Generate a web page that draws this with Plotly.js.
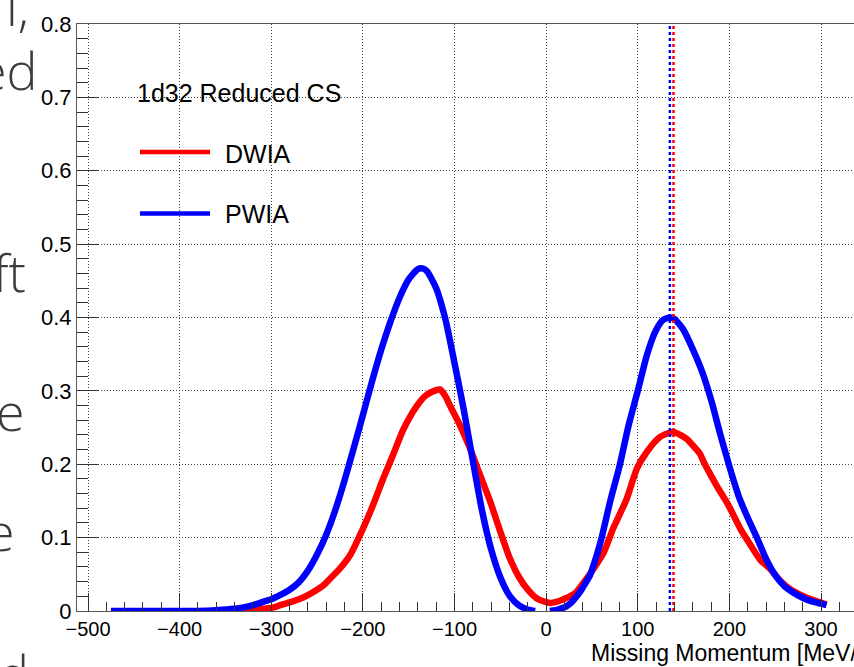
<!DOCTYPE html>
<html>
<head>
<meta charset="utf-8">
<script src="https://cdn.plot.ly/plotly-3.0.1.min.js"></script>
<style>
html,body{margin:0;padding:0;overflow:hidden;background:#fff;width:854px;height:667px;}
#chart{width:900px;height:667px;}
</style>
</head>
<body>
<div id="chart"></div>
<script>
// ---- data ----
const pwiaX = [-475,-450,-420,-400,-380,-360,-340,-330,-320,-310,-300,-290,-280,-270,-260,-250,-240,-230,-220,-210,-200,-190,-180,-170,-160,-150,-140,-135,-130,-120,-110,-100,-90,-80,-70,-60,-50,-40,-30,-20,-12,
  null,
  4,10,15,20,26,30,37,40,48,50,55,60,70,80,90,100,110,120,128,135,140,146,150,160,170,180,190,200,210,220,230,240,250,260,270,280,290,300,306];
const pwiaY = [0,0,0,0,0,0.001,0.003,0.005,0.008,0.012,0.016,0.022,0.029,0.039,0.055,0.077,0.104,0.138,0.178,0.222,0.267,0.313,0.356,0.394,0.427,0.452,0.466,0.467,0.463,0.440,0.398,0.338,0.275,0.205,0.137,0.084,0.046,0.021,0.008,0.002,0,
  null,
  0,0.001,0.003,0.005,0.010,0.015,0.026,0.032,0.049,0.056,0.075,0.097,0.150,0.197,0.253,0.300,0.349,0.383,0.397,0.400,0.398,0.390,0.383,0.357,0.327,0.288,0.241,0.197,0.157,0.127,0.100,0.071,0.049,0.034,0.025,0.018,0.013,0.010,0.008];

const dwiaX = [-345,-334,-320,-310,-297,-290,-279,-270,-261,-250,-243,-235,-225,-214,-200,-189,-178,-167,-156,-142,-131,-120,-116,-110,-105,-94,-83,-72,-61,-50,-40,-30,-20,-10,0,5,10,19,30,33,44,52,63,73,88,99,110,124,139,153,157,168,172,186,199,212,223,234,244,255,266,281,303,306];
const dwiaY = [0,0.001,0.002,0.003,0.005,0.008,0.012,0.016,0.021,0.029,0.035,0.045,0.058,0.076,0.112,0.144,0.180,0.213,0.247,0.278,0.294,0.301,0.302,0.293,0.280,0.253,0.221,0.185,0.149,0.108,0.073,0.047,0.029,0.017,0.012,0.011,0.012,0.016,0.023,0.026,0.044,0.058,0.080,0.112,0.153,0.194,0.217,0.237,0.244,0.235,0.230,0.214,0.203,0.171,0.144,0.112,0.090,0.069,0.058,0.042,0.030,0.020,0.010,0.009];

const peakNames = ["PWIA mean","DWIA mean"];
const peakX = [135, 139];
const yRange = [0, 0.8];
const xRange = [-512, 360];

const legendHeader = "1d32 Reduced CS";
const seriesNames = ["DWIA","PWIA"];
const xTitle = "Missing Momentum [MeV/c]";
const slideFragments = ["l,","ed","ft","e","e","d"];

// ---- layout helpers (pixel -> paper) ----
const W = 900, H = 667, ML = 77, MR = 24, MT = 24, MB = 56;
const PW = W - ML - MR, PH = H - MT - MB;
const px = v => (v - ML) / PW;
const py = v => (H - MB - v) / PH;

const RED = "#ff0000", BLUE = "#0000ff";
const FONT = "Liberation Sans, Arial, Helvetica, sans-serif";

const traces = [
  {x: dwiaX, y: dwiaY, type: "scatter", mode: "lines", name: seriesNames[0],
   line: {color: RED, width: 6.5, shape: "spline", smoothing: 0.6}, connectgaps: false},
  {x: pwiaX, y: pwiaY, type: "scatter", mode: "lines", name: seriesNames[1],
   line: {color: BLUE, width: 6.5, shape: "spline", smoothing: 0.6}, connectgaps: false},
  {x: [peakX[0], peakX[0]], y: yRange, type: "scatter", mode: "lines", name: peakNames[0],
   line: {color: BLUE, width: 2.5, dash: "3px,3px"}},
  {x: [peakX[1], peakX[1]], y: yRange, type: "scatter", mode: "lines", name: peakNames[1],
   line: {color: RED, width: 2.5, dash: "3px,3px"}}
];

const fragPos = [[31, 5], [40, 70], [28, 271], [27, 410], [17, 530], [31, 672]];
const annotations = [
  {text: legendHeader, x: px(135), y: py(93), xref: "paper", yref: "paper", xanchor: "left", yanchor: "middle",
   showarrow: false, font: {family: FONT, size: 25, color: "#000"}},
  {text: seriesNames[0], x: px(223), y: py(153.5), xref: "paper", yref: "paper", xanchor: "left", yanchor: "middle",
   showarrow: false, font: {family: FONT, size: 25, color: "#000"}},
  {text: seriesNames[1], x: px(223), y: py(214.5), xref: "paper", yref: "paper", xanchor: "left", yanchor: "middle",
   showarrow: false, font: {family: FONT, size: 25, color: "#000"}},
  {text: xTitle, x: px(590), y: py(653), xref: "paper", yref: "paper", xanchor: "left", yanchor: "middle",
   borderpad: 0, showarrow: false, font: {family: FONT, size: 23, color: "#000"}}
];
slideFragments.forEach((t, i) => {
  annotations.push({text: t, x: px(fragPos[i][0]), y: py(fragPos[i][1]), xref: "paper", yref: "paper",
    xanchor: "right", yanchor: "middle", showarrow: false,
    font: {family: "Open Sans, Noto Sans, sans-serif", size: 52, weight: 300, color: "#3c3c3c"}});
});

const shapes = [
  {type: "line", xref: "paper", yref: "paper", x0: px(140), x1: px(210), y0: py(152), y1: py(152),
   line: {color: RED, width: 4.5}},
  {type: "line", xref: "paper", yref: "paper", x0: px(140), x1: px(210), y0: py(213.5), y1: py(213.5),
   line: {color: BLUE, width: 4.5}}
];

const layout = {
  width: W, height: H,
  margin: {l: ML, r: MR, t: MT, b: MB, pad: 0},
  paper_bgcolor: "#fff", plot_bgcolor: "#fff",
  showlegend: false,
  font: {family: FONT, color: "#000"},
  xaxis: {
    range: xRange, tick0: 0, dtick: 100, ticks: "inside", ticklen: 18, tickwidth: 1, tickcolor: "#333",
    showgrid: true, gridcolor: "#444", griddash: "1px,2px", gridwidth: 1, zeroline: false,
    showline: true, linecolor: "#555", linewidth: 1, mirror: true,
    tickfont: {family: FONT, size: 20, color: "#000"},
    minor: {dtick: 20, tick0: 0, ticks: "inside", ticklen: 9, tickwidth: 1, tickcolor: "#333", showgrid: false},
    fixedrange: true
  },
  yaxis: {
    range: yRange, tick0: 0, dtick: 0.1, ticks: "inside", ticklen: 21, tickwidth: 1, tickcolor: "#333",
    showgrid: true, gridcolor: "#444", griddash: "1px,2px", gridwidth: 1, zeroline: false,
    showline: true, linecolor: "#555", linewidth: 1, mirror: true,
    tickfont: {family: FONT, size: 22, color: "#000"},
    minor: {dtick: 0.02, tick0: 0, ticks: "inside", ticklen: 11, tickwidth: 1, tickcolor: "#333", showgrid: false},
    fixedrange: true
  },
  annotations: annotations,
  shapes: shapes
};

Plotly.newPlot("chart", traces, layout, {displayModeBar: false, staticPlot: true});
</script>
</body>
</html>
